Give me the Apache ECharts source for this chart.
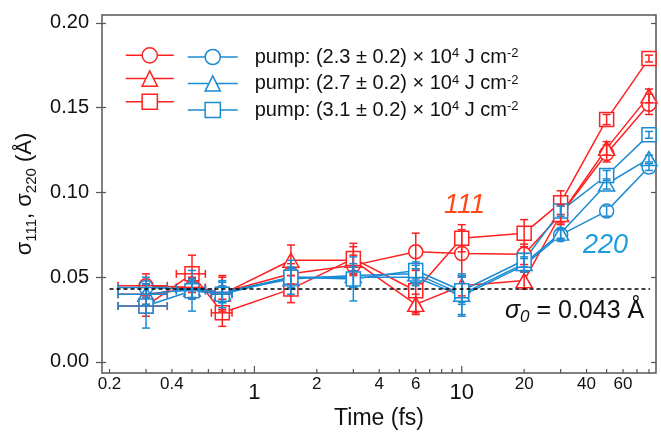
<!DOCTYPE html>
<html><head><meta charset="utf-8">
<script src="https://cdn.jsdelivr.net/npm/echarts@6/dist/echarts.min.js"></script>
<style>html,body{margin:0;padding:0;background:#fff}#c{width:661px;height:432px}</style>
</head><body><div id="c"></div>
<script>
// ---------- data ----------
const times   = [0.3, 0.5, 0.7, 1.5, 3, 6, 10, 20, 30, 50, 80];
const timeErr = [0.08, 0.08, 0.08, 0, 0, 0, 0, 0, 0, 0, 0];

const s111_23 = [0.045, 0.044, 0.041, 0.052, 0.057, 0.065, 0.064, 0.0635, 0.087, 0.123, 0.152];
const s111_27 = [0.040, 0.043, 0.040, 0.060, 0.060, 0.034, 0.045, 0.048, 0.087, 0.126, 0.157];
const s111_31 = [0.033, 0.052, 0.029, 0.043, 0.061, 0.042, 0.073, 0.076, 0.094, 0.143, 0.179];
const s220_23 = [0.044, 0.043, 0.041, 0.050, 0.050, 0.050, 0.039, 0.057, 0.075, 0.089, 0.115];
const s220_27 = [0.040, 0.043, 0.041, 0.049, 0.051, 0.052, 0.040, 0.058, 0.076, 0.105, 0.120];
const s220_31 = [0.033, 0.042, 0.040, 0.050, 0.049, 0.054, 0.042, 0.060, 0.089, 0.110, 0.134];

const e111_23 = [0.007, 0.006, 0.010, 0.006, 0.006, 0.011, 0.014, 0.006, 0.006, 0.005, 0.006];
const e111_27 = [0.006, 0.006, 0.010, 0.009, 0.008, 0.006, 0.006, 0.005, 0.005, 0.004, 0.004];
const e111_31 = [0.006, 0.011, 0.008, 0.008, 0.009, 0.013, 0.008, 0.008, 0.007, 0.003, 0.002];
const e220_23 = [0.006, 0.005, 0.006, 0.006, 0.006, 0.005, 0.012, 0.004, 0.003, 0.003, 0.002];
const e220_27 = [0.006, 0.006, 0.006, 0.006, 0.007, 0.005, 0.012, 0.004, 0.003, 0.003, 0.002];
const e220_31 = [0.013, 0.012, 0.008, 0.010, 0.013, 0.005, 0.008, 0.004, 0.003, 0.003, 0.002];

const fluenceLabels = ['(2.3 \u00b1 0.2)', '(2.7 \u00b1 0.2)', '(3.1 \u00b1 0.2)'];
const sigma0 = 0.043;
const yTicks = [0, 0.05, 0.10, 0.15, 0.20];
const xTicks = [0.2,0.3,0.4,0.5,0.6,0.7,0.8,0.9,1,2,3,4,5,6,7,8,9,10,20,30,40,50,60,70,80];
const xTickLabels = [0.2, 0.4, 1, 2, 4, 6, 10, 20, 40, 60];
const bigXLabels = [1, 10];

// ---------- style ----------
const FONT = '"Liberation Sans", Arial, Helvetica, sans-serif';
const RED = '#ff2020', BLUE = '#1b8bd3', C111 = '#ff4a17', C220 = '#1a9ede';
const AXIS = '#555', TXT = '#111';
const X_MIN = 0.184, X_MAX = 86.5, Y_MIN = -0.0065, Y_MAX = 0.2047;

const redNames = ['111 low', '111 mid', '111 high'];
const blueNames = ['220 low', '220 mid', '220 high'];
const symbols = ['circle', 'triangle', 'rect'];
const symSizes = [14, [16, 14], 14];

function lineSeries(name, vals, color, k, withMark) {
  const s = {
    name, type: 'line', data: times.map((t, i) => [t, vals[i]]),
    symbol: symbols[k], symbolSize: symSizes[k], showSymbol: true,
    lineStyle: { color, width: 1.5 },
    itemStyle: { color: '#fff', borderColor: color, borderWidth: 1.5 },
    emphasis: { disabled: true }, animation: false, z: 2
  };
  if (withMark) {
    s.markLine = {
      silent: true, symbol: 'none', label: { show: false }, animation: false,
      lineStyle: { color: '#000', type: [4, 3], width: 1.5 },
      data: [[{ coord: [times[0] - 0.1, sigma0] }, { coord: [81, sigma0] }]]
    };
  }
  return s;
}

function errSeries(vals, errs, color) {
  return {
    type: 'custom', clip: false, silent: true, z: 3, animation: false,
    data: times.map((t, i) => [t, vals[i], errs[i], timeErr[i]]),
    renderItem: (params, api) => {
      const x = api.value(0), y = api.value(1), ey = api.value(2), ex = api.value(3);
      const st = { stroke: color, lineWidth: 1.5 };
      const ch = [];
      const cap = 4;
      if (ey > 0) {
        const a = api.coord([x, y + ey]), b = api.coord([x, y - ey]);
        ch.push({ type: 'line', shape: { x1: a[0], y1: a[1], x2: b[0], y2: b[1] }, style: st });
        ch.push({ type: 'line', shape: { x1: a[0] - cap, y1: a[1], x2: a[0] + cap, y2: a[1] }, style: st });
        ch.push({ type: 'line', shape: { x1: b[0] - cap, y1: b[1], x2: b[0] + cap, y2: b[1] }, style: st });
      }
      if (ex > 0) {
        const l = api.coord([x - ex, y]), r = api.coord([x + ex, y]);
        ch.push({ type: 'line', shape: { x1: l[0], y1: l[1], x2: r[0], y2: r[1] }, style: st });
        ch.push({ type: 'line', shape: { x1: l[0], y1: l[1] - cap, x2: l[0], y2: l[1] + cap }, style: st });
        ch.push({ type: 'line', shape: { x1: r[0], y1: r[1] - cap, x2: r[0], y2: r[1] + cap }, style: st });
      }
      return { type: 'group', children: ch };
    }
  };
}

const xTickSeries = {
  type: 'custom', clip: false, silent: true, z: 5, animation: false,
  data: xTicks.map(v => [v, Y_MIN]),
  renderItem: (params, api) => {
    const v = api.value(0);
    const p = api.coord([v, Y_MIN]);
    const len = bigXLabels.indexOf(v) >= 0 ? 7 : 4;
    return { type: 'line', shape: { x1: p[0], y1: p[1], x2: p[0], y2: p[1] - len }, style: { stroke: AXIS, lineWidth: 1.2 } };
  }
};
const xLabelSeries = {
  type: 'custom', clip: false, silent: true, z: 5, animation: false,
  data: xTickLabels.map(v => [v, Y_MIN]),
  renderItem: (params, api) => {
    const v = api.value(0);
    const p = api.coord([v, Y_MIN]);
    const big = bigXLabels.indexOf(v) >= 0;
    return {
      type: 'text', x: p[0], y: p[1] + (big ? 19.5 : 11.5),
      style: {
        text: String(v), fill: TXT, font: (big ? '22px ' : '17px ') + FONT,
        align: 'center', verticalAlign: 'middle', textAlign: 'center', textVerticalAlign: 'middle'
      }
    };
  }
};

const reds = [s111_23, s111_27, s111_31], blues = [s220_23, s220_27, s220_31];
const redE = [e111_23, e111_27, e111_31], blueE = [e220_23, e220_27, e220_31];

const series = [];
reds.forEach((v, k) => series.push(lineSeries(redNames[k], v, RED, k, k === 0)));
blues.forEach((v, k) => series.push(lineSeries(blueNames[k], v, BLUE, k, false)));
reds.forEach((v, k) => series.push(errSeries(v, redE[k], RED)));
blues.forEach((v, k) => series.push(errSeries(v, blueE[k], BLUE)));
series.push(xTickSeries, xLabelSeries);

function legendData(names, color) {
  return names.map(n => ({ name: n, itemStyle: { color: '#fff', borderColor: color, borderWidth: 1.5 }, lineStyle: { color, width: 1.5 } }));
}

const yBase = { type: 'value', min: Y_MIN, max: Y_MAX, splitLine: { show: false }, axisLine: { show: false } };

const option = {
  animation: false,
  backgroundColor: '#fff',
  grid: { left: 102, right: 5, top: 15, bottom: 59, show: true, borderColor: AXIS, borderWidth: 1.5, containLabel: false, outerBoundsMode: 'none' },
  xAxis: {
    type: 'log', logBase: 10, min: X_MIN, max: X_MAX,
    axisLine: { show: false }, axisTick: { show: false }, axisLabel: { show: false },
    splitLine: { show: false }, minorTick: { show: false },
    name: 'Time (fs)', nameLocation: 'middle', nameGap: 34,
    nameTextStyle: { fontSize: 23, color: TXT, fontFamily: FONT }
  },
  yAxis: [
    Object.assign({}, yBase, {
      position: 'left',
      axisTick: { show: true, inside: false, length: 6, customValues: yTicks, lineStyle: { color: AXIS, width: 1.2 } },
      axisLabel: { customValues: yTicks, formatter: v => v.toFixed(2), margin: 13, fontSize: 20, color: TXT, fontFamily: FONT },
      name: '{s|\u03c3}{sub|111}{s|, \u03c3}{sub|220}{s| (\u00c5)}', nameLocation: 'middle', nameGap: 55,
      nameTextStyle: {
        rich: {
          s: { fontSize: 22, lineHeight: 28, color: TXT, fontFamily: FONT },
          sub: { fontSize: 15, lineHeight: 12, verticalAlign: 'bottom', color: TXT, fontFamily: FONT }
        }
      }
    }),
    Object.assign({}, yBase, {
      position: 'left',
      axisTick: { show: true, inside: true, length: 4, customValues: yTicks, lineStyle: { color: AXIS, width: 1.2 } },
      axisLabel: { show: false }
    }),
    Object.assign({}, yBase, {
      position: 'right',
      axisTick: { show: true, inside: true, length: 5, customValues: yTicks, lineStyle: { color: AXIS, width: 1.2 } },
      axisLabel: { show: false }
    })
  ],
  legend: [
    {
      orient: 'vertical', left: 120, top: 42, padding: 5, itemWidth: 48, itemHeight: 19, itemGap: 6.5,
      selectedMode: false, data: legendData(redNames, RED), formatter: () => '',
      textStyle: { fontSize: 20, lineHeight: 20, fontFamily: FONT }
    },
    {
      orient: 'vertical', left: 182, top: 42, padding: 5, itemWidth: 50, itemHeight: 19, itemGap: 6.5,
      selectedMode: false, data: legendData(blueNames, BLUE),
      formatter: name => 'pump: ' + fluenceLabels[blueNames.indexOf(name)] + ' \u00d7 10{sup|4} J cm{sup|-2}',
      textStyle: {
        fontSize: 20, lineHeight: 20, color: TXT, fontFamily: FONT, padding: [0, 0, 0, 12],
        rich: { sup: { fontSize: 13, lineHeight: 11, verticalAlign: 'top', color: TXT, fontFamily: FONT } }
      }
    }
  ],
  graphic: [
    { type: 'text', x: 444, y: 205, silent: true, z: 10,
      style: { text: '111', fill: C111, font: 'italic 27px ' + FONT, align: 'left', verticalAlign: 'middle', textAlign: 'left', textVerticalAlign: 'middle' } },
    { type: 'text', x: 583, y: 245, silent: true, z: 10,
      style: { text: '220', fill: C220, font: 'italic 27px ' + FONT, align: 'left', verticalAlign: 'middle', textAlign: 'left', textVerticalAlign: 'middle' } },
    { type: 'text', x: 505, y: 311, silent: true, z: 10,
      style: {
        text: '{i|\u03c3}{is|0}{n| = ' + sigma0.toFixed(3) + ' \u00c5}',
        align: 'left', verticalAlign: 'middle', textAlign: 'left', textVerticalAlign: 'middle',
        rich: {
          i: { font: 'italic 25px ' + FONT, fill: TXT, lineHeight: 30 },
          is: { font: 'italic 17px ' + FONT, fill: TXT, lineHeight: 12, verticalAlign: 'bottom' },
          n: { font: '25px ' + FONT, fill: TXT, lineHeight: 30 }
        }
      } }
  ],
  series
};

const chart = echarts.init(document.getElementById('c'), null, { renderer: 'canvas' });
chart.setOption(option);
</script>
</body></html>
